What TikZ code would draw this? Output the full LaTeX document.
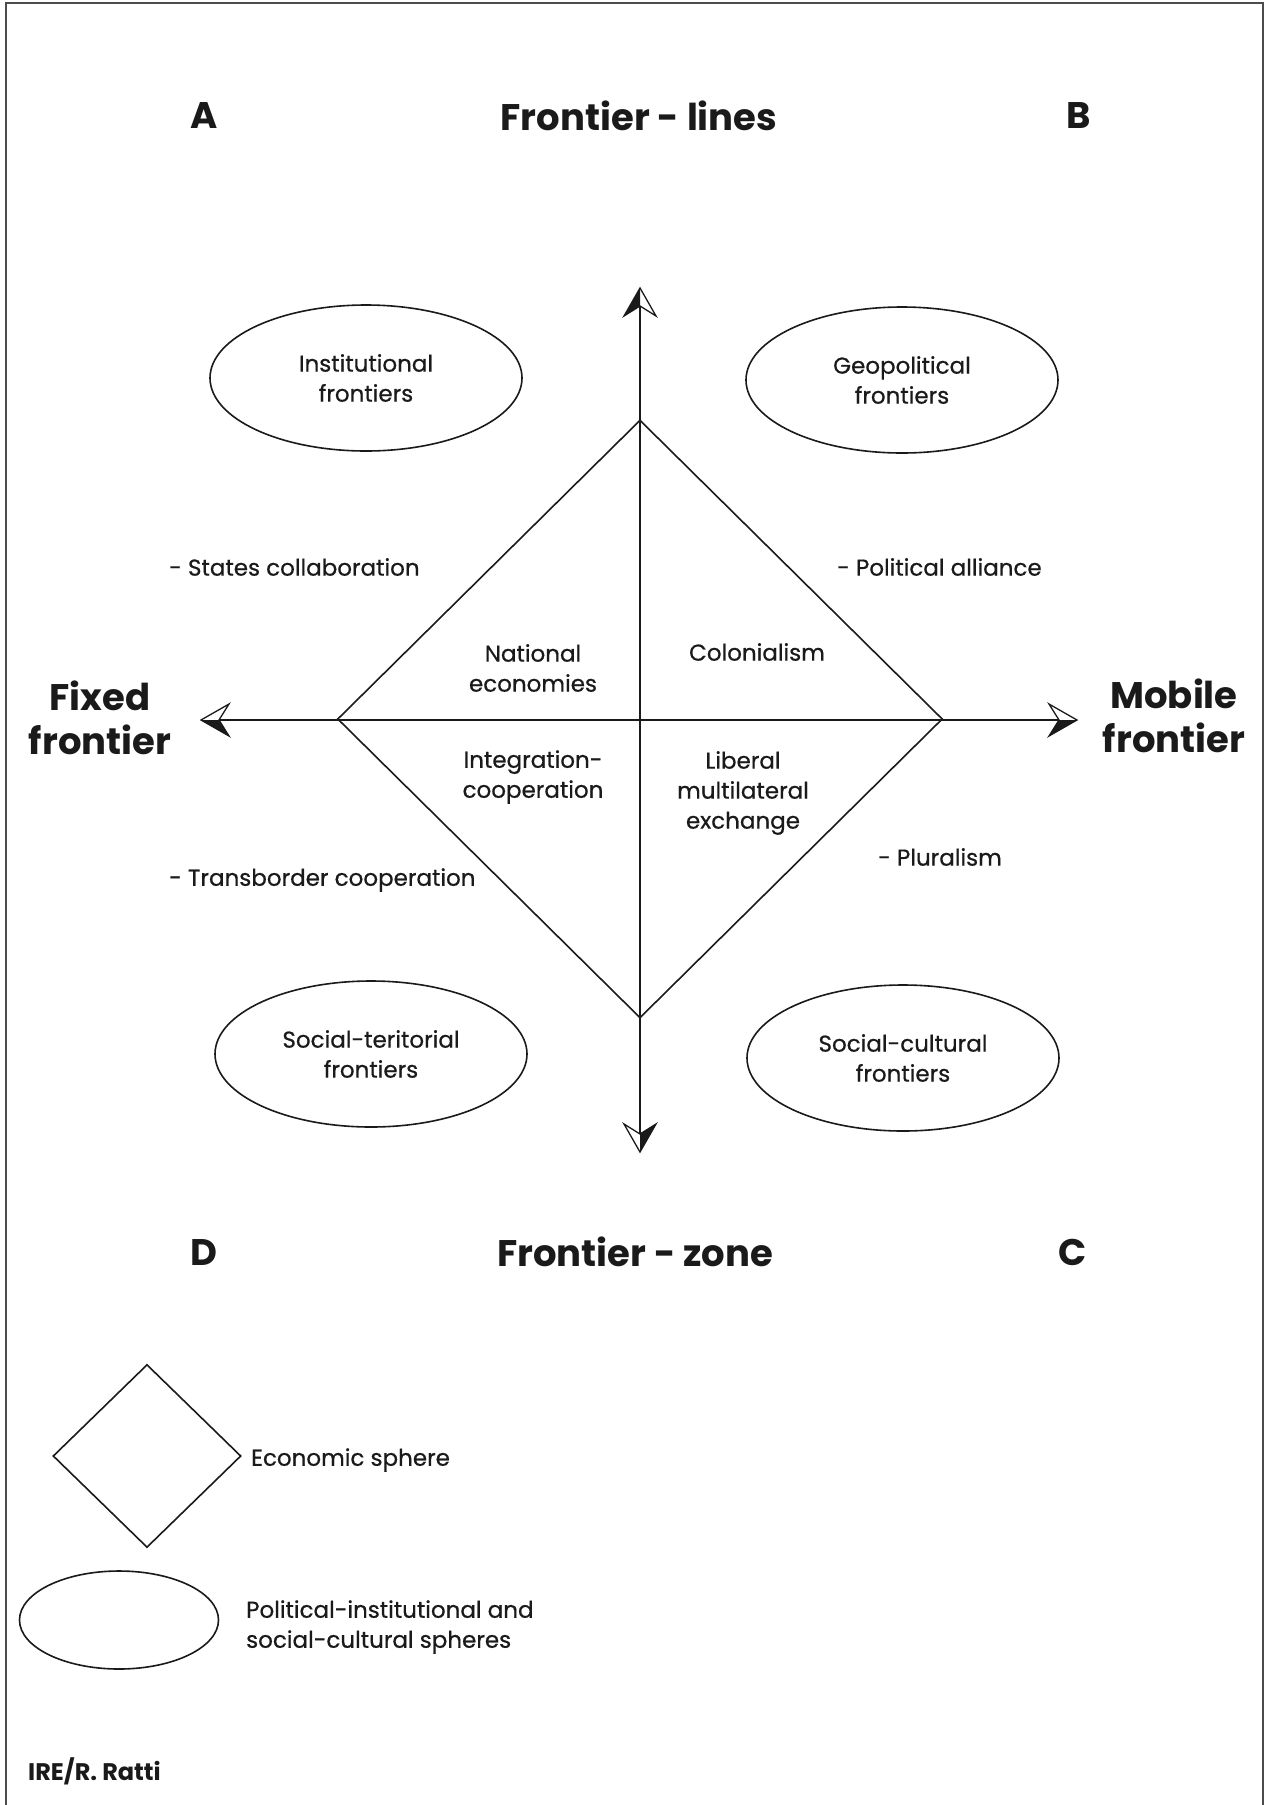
\documentclass[tikz,border=0pt]{standalone}
\usepackage{fontspec}
\setmainfont{Poppins}
\newfontfamily\bodyfont{Poppins}[FakeBold=0.6]
\usetikzlibrary{shapes.geometric}
\definecolor{ink}{HTML}{1A1A1A}
\begin{document}
\begin{tikzpicture}[x=1pt,y=-1pt,
  every node/.style={text=ink},
  body/.style={font=\bodyfont\fontsize{23}{30}\selectfont, align=center, inner sep=0pt},
  bodyl/.style={font=\bodyfont\fontsize{23}{30}\selectfont, align=left, anchor=west, inner sep=0pt},
  title/.style={font=\fontsize{37}{44}\selectfont\bfseries, align=center, inner sep=0pt},
  sphere/.style={draw=ink, line width=1.6pt, ellipse, minimum width=312pt, minimum height=146pt, inner sep=0pt, align=center, font=\bodyfont\fontsize{23}{30}\selectfont},
  econ/.style={draw=ink, line width=1.6pt, diamond, inner sep=0pt},
  axis/.style={draw=ink, line width=1.6pt},
  headfill/.style={fill=ink},
  headline/.style={draw=ink, line width=1.3pt, line join=miter},
  frame/.style={draw=black!70, line width=2pt}
]
\useasboundingbox (0,0) rectangle (1266,1805);
\fill[white] (0,0) rectangle (1266,1805);
% frame
\draw[frame] (6,1805) -- (6,3) -- (1263,3) -- (1263,1805);

% economic sphere diamond
\node[econ, minimum width=605pt, minimum height=598pt] (dia) at (640,719) {};

% axes
\coordinate (tipU) at (640,288);
\coordinate (tipD) at (640,1152);
\coordinate (tipL) at (201,720);
\coordinate (tipR) at (1077,720);
\coordinate (notU) at (640,306);
\coordinate (notD) at (640,1134);
\coordinate (notL) at (219,720);
\coordinate (notR) at (1059,720);
\draw[axis] (notU) -- (notD);
\draw[axis] (notL) -- (notR);
% arrowheads (half filled)
\begin{scope}[shift={(tipU)}]
  \fill[headfill] (0,0) -- (-16,28) -- (0,18) -- cycle;
  \draw[headline] (0,0) -- (-16,28) -- (0,18) -- (16,28) -- cycle;
\end{scope}
\begin{scope}[shift={(tipD)}]
  \fill[headfill] (0,0) -- (16,-28) -- (0,-18) -- cycle;
  \draw[headline] (0,0) -- (-16,-28) -- (0,-18) -- (16,-28) -- cycle;
\end{scope}
\begin{scope}[shift={(tipL)}]
  \fill[headfill] (0,0) -- (28,16) -- (18,0) -- cycle;
  \draw[headline] (0,0) -- (28,-16) -- (18,0) -- (28,16) -- cycle;
\end{scope}
\begin{scope}[shift={(tipR)}]
  \fill[headfill] (0,0) -- (-28,16) -- (-18,0) -- cycle;
  \draw[headline] (0,0) -- (-28,-16) -- (-18,0) -- (-28,16) -- cycle;
\end{scope}

% titles
\node[title] (A) at (204,116) {A};
\node[title] (flines) at (639,116) {Frontier - lines};
\node[title] (B) at (1079,116) {B};
\node[title] (D) at (204,1252) {D};
\node[title] (fzone) at (635,1252) {Frontier - zone};
\node[title] (C) at (1073,1252) {C};
\node[title] (fixed) at (100,718) {Fixed\\frontier};
\node[title] (mobile) at (1174,716) {Mobile\\frontier};

% political spheres
\node[sphere] (inst) at (366,378) {Institutional\\frontiers};
\node[sphere] (geo) at (902,380) {Geopolitical\\frontiers};
\node[sphere] (soct) at (371,1054) {Social-teritorial\\frontiers};
\node[sphere] (socc) at (903,1058) {Social-cultural\\frontiers};

% quadrant texts
\node[bodyl] (states) at (169,567) {- States collaboration};
\node[bodyl] (alliance) at (837,567) {- Political alliance};
\node[body] (nat) at (533,668) {National\\economies};
\node[body] (colon) at (757,652) {Colonialism};
\node[body] (integ) at (533,777) {Integration-\\cooperation};
\node[body] (liberal) at (743,793) {Liberal\\multilateral\\exchange};
\node[bodyl] (plural) at (878,857) {- Pluralism};
\node[bodyl] (transb) at (169,880) {- Transborder cooperation};

% legend
\node[econ, minimum width=188pt, minimum height=183pt] (legdia) at (147,1456) {};
\node[bodyl] (legdiat) at (251,1460) {Economic sphere};
\node[draw=ink, line width=1.6pt, ellipse, minimum width=199pt, minimum height=98pt, inner sep=0pt] (legell) at (119,1620) {};
\node[bodyl] (legellt) at (246,1627) {Political-institutional and\\social-cultural spheres};

\node[anchor=west, inner sep=0pt, font=\fontsize{24}{30}\selectfont\bfseries] (credit) at (28,1771) {IRE/R. Ratti};
\end{tikzpicture}
\end{document}
